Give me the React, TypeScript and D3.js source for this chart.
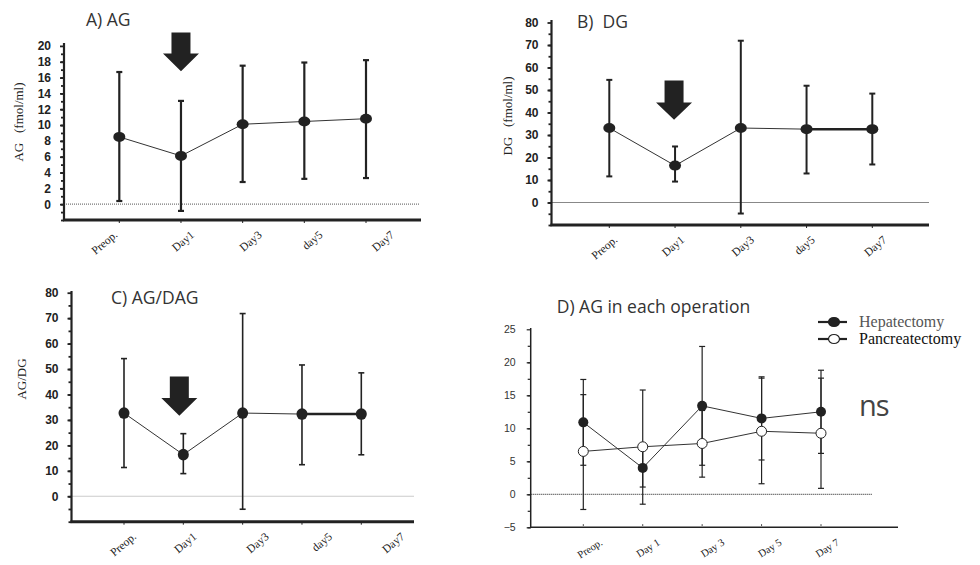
import React, { useEffect, useRef } from "react";
import * as d3 from "d3";

// categories
const days = ["Preop.", "Day1", "Day3", "day5", "Day7"];
const daysD = ["Preop.", "Day 1", "Day 3", "Day 5", "Day 7"];

// A) AG (fmol/ml): mean, upper and lower end of the error bar
const agMean = [8.5, 6.1, 10.1, 10.45, 10.8];
const agUpper = [16.7, 13.05, 17.5, 17.9, 18.2];
const agLower = [0.4, -0.85, 2.8, 3.2, 3.3];

// B) DG (fmol/ml)
const dgMean = [33.1, 16.4, 33.1, 32.6, 32.6];
const dgUpper = [54.5, 24.9, 71.9, 51.9, 48.4];
const dgLower = [11.6, 9.3, -4.9, 12.9, 16.9];

// C) AG/DG
const ratioMean = [32.7, 16.35, 32.7, 32.3, 32.3];
const ratioUpper = [54.1, 24.6, 71.8, 51.6, 48.5];
const ratioLower = [11.3, 8.9, -5.1, 12.4, 16.3];

// D) AG in each operation
const hepMean = [10.9, 4.0, 13.4, 11.5, 12.5];
const hepUpper = [17.4, 6.9, 22.4, 17.8, 18.8];
const hepLower = [4.4, 1.1, 4.4, 5.2, 6.2];
const pancMean = [6.5, 7.2, 7.7, 9.55, 9.25];
const pancUpper = [15.1, 15.8, 12.7, 17.6, 17.6];
const pancLower = [-2.3, -1.5, 2.6, 1.6, 0.9];

// tick labels
const agTicks = [0, 2, 4, 6, 8, 10, 12, 14, 16, 18, 20];
const dgTicks = [0, 10, 20, 30, 40, 50, 60, 70, 80];
const dTicks = [-5, 0, 5, 10, 15, 20, 25];

// arrows over Day1 (top, neck, tip in data units)
const arrowA = [21.7, 19.05, 16.8];
const arrowB = [54.2, 44.4, 36.8];
const arrowC = [47.1, 38.6, 31.6];

const ink = "#222";
const serif = "'Liberation Serif', 'Times New Roman', serif";

function drawPanel(svg, p) {
  const x = d3.scalePoint().domain(p.cats).range(p.xr);
  const y = d3.scaleLinear().domain(p.yd).range(p.yr);
  const g = svg.append("g");
  const base = p.yr[0];

  // dotted zero line
  g.append("line")
    .attr("x1", p.axisX)
    .attr("x2", p.zeroEnd)
    .attr("y1", y(0))
    .attr("y2", y(0))
    .attr("stroke", p.zeroColor)
    .attr("stroke-width", 1.2)
    .attr("stroke-dasharray", "1,1");

  // y axis, major + minor ticks
  const yAxis = g
    .append("g")
    .attr("transform", `translate(${p.axisX},0)`)
    .call(d3.axisLeft(y).tickValues(p.ticks).tickSize(4).tickSizeOuter(0).tickPadding(p.tickPad));
  yAxis.select(".domain").attr("stroke", ink).attr("stroke-width", p.axisW)
    .attr("d", `M0,${base}V${p.yTop}`);
  yAxis.selectAll(".tick line").attr("stroke", ink).attr("stroke-width", p.tickW);
  yAxis.selectAll("text")
    .attr("font-family", p.tickFont)
    .attr("font-size", p.tickSize)
    .attr("font-weight", p.tickWeight)
    .attr("fill", p.tickColor);
  const minor = g
    .append("g")
    .attr("transform", `translate(${p.axisX},0)`)
    .call(d3.axisLeft(y).tickValues(d3.range(p.yd[0], p.yd[1], p.minorStep)).tickSize(3).tickFormat(() => ""));
  minor.select(".domain").remove();
  minor.selectAll(".tick line").attr("stroke", ink).attr("stroke-width", p.tickW);

  // x axis
  g.append("line")
    .attr("x1", p.axisX - p.axisW / 2)
    .attr("x2", p.axisRight)
    .attr("y1", base)
    .attr("y2", base)
    .attr("stroke", ink)
    .attr("stroke-width", p.xAxisW);
  g.selectAll(".xt")
    .data(p.cats)
    .join("line")
    .attr("x1", (d) => x(d))
    .attr("x2", (d) => x(d))
    .attr("y1", base + p.xTick[0])
    .attr("y2", base + p.xTick[1])
    .attr("stroke", ink)
    .attr("stroke-width", 1);
  // rotated category labels (hand-placed in the original, hence the nudges)
  g.selectAll(".xl")
    .data(p.cats)
    .join("text")
    .attr("transform", (d, i) => `translate(${x(d) + p.labNudge[i]},${base + p.labDy}) rotate(${p.labRot})`)
    .attr("text-anchor", "end")
    .attr("font-family", serif)
    .attr("font-size", p.labSize)
    .attr("fill", ink)
    .text((d) => d);

  // y label
  if (p.yLabel) {
    g.append("text")
      .attr("transform", `translate(${p.yLabelPos[0]},${p.yLabelPos[1]}) rotate(-90)`)
      .attr("text-anchor", "middle")
      .attr("font-family", serif)
      .attr("font-size", 13)
      .attr("fill", ink)
      .attr("xml:space", "preserve")
      .text(p.yLabel);
  }

  // title
  g.append("text")
    .attr("x", p.titlePos[0])
    .attr("y", p.titlePos[1])
    .attr("font-family", "'Open Sans', 'Noto Sans', sans-serif")
    .attr("font-size", 17.5)
    .attr("fill", "#333")
    .attr("xml:space", "preserve")
    .text(p.title);

  // arrow
  if (p.arrow) {
    const [top, neck, tip] = p.arrow.map(y);
    const cx = x(p.cats[1]) + p.arrowDx;
    const hw = 18, sw = 9.5;
    g.append("path")
      .attr("d", `M${cx - sw},${top}H${cx + sw}V${neck}H${cx + hw}L${cx},${tip}L${cx - hw},${neck}H${cx - sw}Z`)
      .attr("fill", ink);
  }

  // series
  p.series.forEach((s) => {
    const pts = p.cats.map((c, i) => ({ c, m: s.mean[i], u: s.upper[i], l: s.lower[i] }));
    const eb = g.append("g").attr("stroke", ink).attr("stroke-width", p.barW);
    eb.selectAll(".v").data(pts).join("line")
      .attr("x1", (d) => x(d.c)).attr("x2", (d) => x(d.c))
      .attr("y1", (d) => y(d.u)).attr("y2", (d) => y(d.l));
    eb.selectAll(".cu").data(pts).join("line")
      .attr("x1", (d) => x(d.c) - 3).attr("x2", (d) => x(d.c) + 3)
      .attr("y1", (d) => y(d.u)).attr("y2", (d) => y(d.u));
    eb.selectAll(".cl").data(pts).join("line")
      .attr("x1", (d) => x(d.c) - 3).attr("x2", (d) => x(d.c) + 3)
      .attr("y1", (d) => y(d.l)).attr("y2", (d) => y(d.l));
    g.append("path")
      .datum(pts)
      .attr("fill", "none")
      .attr("stroke", "#333")
      .attr("stroke-width", 1)
      .attr("d", d3.line().x((d) => x(d.c)).y((d) => y(d.m)));
    if (p.thickFrom != null) {
      g.append("path")
        .datum(pts.slice(p.thickFrom))
        .attr("fill", "none")
        .attr("stroke", ink)
        .attr("stroke-width", 2.5)
        .attr("d", d3.line().x((d) => x(d.c)).y((d) => y(d.m)));
    }
    g.selectAll(null).data(pts).join("ellipse")
      .attr("cx", (d) => x(d.c))
      .attr("cy", (d) => y(d.m))
      .attr("rx", p.dot[0])
      .attr("ry", p.dot[1])
      .attr("fill", s.open ? "#fff" : ink)
      .attr("stroke", ink)
      .attr("stroke-width", s.open ? 1 : 0);
  });
}

const App = () => {
  const ref = useRef(null);

  useEffect(() => {
    const svg = d3.select(ref.current);
    svg.selectAll("*").remove();

    const common = {
      tickFont: "'Liberation Sans Narrow', 'Arial Narrow', 'Liberation Sans', sans-serif",
      tickSize: 12,
      tickWeight: 600,
      tickColor: ink,
      tickPad: 9,
      axisW: 2.2,
      xAxisW: 3,
      tickW: 1.8,
      xTick: [0, 3],
      labDy: 16,
      labRot: -40,
      labSize: 11.5,
      zeroColor: "#777",
      dot: [6, 5],
      arrowDx: 0,
    };

    drawPanel(svg, {
      ...common,
      cats: days,
      xr: [119.3, 366],
      yd: [-2, 20],
      yr: [220, 45.9],
      yTop: 43,
      axisX: 64,
      axisRight: 421,
      zeroEnd: 420,
      ticks: agTicks,
      minorStep: 1,
      labNudge: [-1, 14, 20, 19, 29],
      yLabel: "AG   (fmol/ml)",
      yLabelPos: [23, 122],
      title: "A) AG",
      titlePos: [86, 26],
      arrow: arrowA,
      barW: 2.2,
      series: [{ mean: agMean, upper: agUpper, lower: agLower }],
    });

    drawPanel(svg, {
      ...common,
      cats: days,
      xr: [609.3, 872.3],
      yd: [-10, 80],
      yr: [225, 22.5],
      yTop: 20,
      axisX: 551.5,
      axisRight: 929,
      zeroEnd: 929,
      zeroColor: "#111",
      ticks: dgTicks,
      minorStep: 5,
      labNudge: [9, 10, 14, 9, 15],
      yLabel: "DG   (fmol/ml)",
      yLabelPos: [512, 116],
      title: "B)  DG",
      titlePos: [577, 28],
      arrow: arrowB,
      arrowDx: -1,
      barW: 2,
      thickFrom: 3,
      series: [{ mean: dgMean, upper: dgUpper, lower: dgLower }],
    });

    drawPanel(svg, {
      ...common,
      cats: days,
      xr: [124, 361.3],
      yd: [-10, 80],
      yr: [521.7, 292.7],
      yTop: 291,
      axisX: 71.5,
      axisRight: 414,
      zeroEnd: 414,
      zeroColor: "#999",
      ticks: dgTicks,
      minorStep: 5,
      labNudge: [13, 14, 27, 31, 44],
      yLabel: "AG/DG",
      yLabelPos: [26, 379],
      title: "C) AG/DAG",
      titlePos: [111, 304],
      arrow: arrowC,
      arrowDx: -4,
      barW: 1.6,
      thickFrom: 3,
      dot: [5.5, 5.8],
      series: [{ mean: ratioMean, upper: ratioUpper, lower: ratioLower }],
    });

    drawPanel(svg, {
      ...common,
      tickFont: "'Liberation Sans', Arial, sans-serif",
      tickSize: 10.5,
      tickWeight: 400,
      tickColor: "#333",
      tickPad: 11,
      cats: daysD,
      xr: [583.3, 821],
      yd: [-5, 25],
      yr: [527.3, 329.3],
      yTop: 328,
      axisX: 530.7,
      axisRight: 898,
      zeroEnd: 872,
      zeroColor: "#444",
      axisW: 1.5,
      xAxisW: 1.5,
      tickW: 1.2,
      xTick: [-3, -1.5],
      ticks: dTicks,
      minorStep: 2.5,
      labNudge: [20, 18, 23, 21, 19],
      labDy: 17,
      labRot: -32,
      labSize: 10.5,
      title: "D) AG in each operation",
      titlePos: [556.7, 313.3],
      barW: 1.2,
      dot: [5, 5],
      series: [
        { mean: hepMean, upper: hepUpper, lower: hepLower },
        { mean: pancMean, upper: pancUpper, lower: pancLower, open: true },
      ],
    });

    // legend for D
    const legend = [
      { name: "Hepatectomy", open: false, color: "#555" },
      { name: "Pancreatectomy", open: true, color: "#111" },
    ];
    const lg = svg.append("g").attr("transform", "translate(818,322)");
    legend.forEach((d, i) => {
      const row = lg.append("g").attr("transform", `translate(0,${i * 17})`);
      row.append("line").attr("x1", 0).attr("x2", 29).attr("stroke", ink).attr("stroke-width", 2.2);
      row.append("ellipse")
        .attr("cx", 16).attr("rx", 5.5).attr("ry", 4.5)
        .attr("fill", d.open ? "#fff" : ink)
        .attr("stroke", ink).attr("stroke-width", 1.2);
      row.append("text")
        .attr("x", 41).attr("y", 4.5)
        .attr("font-family", serif)
        .attr("font-size", 16)
        .attr("fill", d.color)
        .text(d.name);
    });

    svg.append("text")
      .attr("x", 859)
      .attr("y", 416)
      .attr("font-family", "'Open Sans', 'Noto Sans', sans-serif")
      .attr("font-size", 29)
      .attr("fill", "#444")
      .attr("letter-spacing", -1)
      .text("ns");
  }, []);

  return (
    <svg
      ref={ref}
      width={980}
      height={565}
      style={{ position: "absolute", left: 0, top: 0, background: "#fff" }}
    />
  );
};

export default App;
